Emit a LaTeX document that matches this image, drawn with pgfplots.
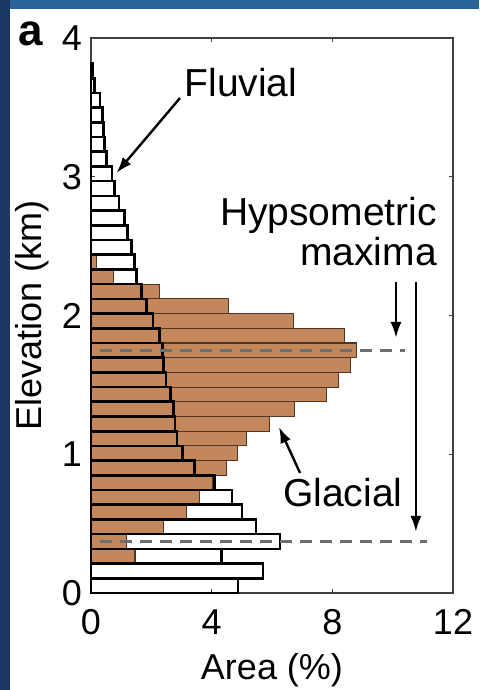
\documentclass[border=0pt]{standalone}
\usepackage{pgfplots}
\pgfplotsset{compat=1.18}
\usetikzlibrary{arrows.meta}
\usepackage{fontspec}
\setmainfont{Liberation Sans}

\definecolor{glacial}{HTML}{C4875C}
\definecolor{glacialedge}{HTML}{4E3524}
\definecolor{frameblue}{HTML}{2A6398}
\definecolor{framenavy}{HTML}{1B3761}
\definecolor{hypso}{HTML}{6E6E6E}

\newcommand{\lblfont}{\fontsize{36}{38}\selectfont}
\newcommand{\notefont}{\fontsize{39}{41}\selectfont}
\tikzset{note arrow/.style={line width=2.4pt, -{Latex[length=16pt, width=11pt]}}}

\begin{document}
\begin{tikzpicture}[x=1pt,y=1pt]
% page background and coloured frame strips
\fill[white] (0,0) rectangle (479,690);
\fill[framenavy] (0,0) rectangle (10,690);
\fill[frameblue] (10,681) rectangle (479,690);
\useasboundingbox (0,0) rectangle (479,690);
\node[font=\fontsize{44}{44}\selectfont\bfseries, anchor=center, inner sep=0pt] at (30.5,656.5) {a};

\begin{axis}[
  at={(91pt,97pt)}, anchor=south west, scale only axis,
  width=362pt, height=555pt,
  xmin=0, xmax=12, ymin=0, ymax=4,
  xtick={0,4,8,12}, ytick={0,1,2,3,4},
  tick align=inside, major tick length=4pt,
  axis line style={draw=black!75, line width=1.3pt},
  every tick/.style={black!75, line width=1.2pt},
  /pgf/number format/assume math mode=true,
  tick label style={font=\lblfont, inner sep=0pt},
  xticklabel style={anchor=center, yshift=-29pt},
  yticklabel style={anchor=east, xshift=-9pt},
  xlabel={Area (\%)}, ylabel={Elevation (km)},
  label style={font=\lblfont, inner sep=0pt},
  xlabel style={at={(axis description cs:0.5,-0.1387)}, anchor=center},
  ylabel style={at={(axis description cs:-0.163,0.5)}, anchor=center},
  clip=false,
]

% glacial hypsometry (elevation bin centre in km, area in %)
\addplot[xbar, bar width=0.106, bar shift=0pt, fill=glacial, draw=glacialedge, line width=1.1pt]
coordinates {
 (1.46,0.265) (1.19,0.371) (2.40,0.477) (3.18,0.583) (3.60,0.689)
 (4.03,0.795) (4.50,0.901) (4.86,1.007) (5.16,1.113) (5.93,1.219)
 (6.74,1.325) (7.80,1.431) (8.19,1.537) (8.59,1.643) (8.80,1.749)
 (8.40,1.855) (6.70,1.961) (4.55,2.067) (2.28,2.173) (0.76,2.279)
 (0.18,2.385)
};

% fluvial hypsometry, outlined on top
\addplot[xbar, bar width=0.106, bar shift=0pt, fill=none, draw=black, line width=2.6pt]
coordinates {
 (4.87,0.053) (5.70,0.159) (4.32,0.265) (6.27,0.371) (5.47,0.477)
 (5.00,0.583) (4.67,0.689) (4.10,0.795) (3.44,0.901) (3.03,1.007)
 (2.85,1.113) (2.79,1.219) (2.74,1.325) (2.63,1.431) (2.49,1.537)
 (2.40,1.643) (2.38,1.749) (2.27,1.855) (2.05,1.961) (1.84,2.067)
 (1.68,2.173) (1.51,2.279) (1.45,2.385) (1.35,2.491) (1.21,2.597)
 (1.11,2.703) (0.93,2.809) (0.78,2.915) (0.69,3.021) (0.52,3.127)
 (0.45,3.233) (0.42,3.339) (0.38,3.445) (0.30,3.551) (0.12,3.657)
 (0.04,3.763)
};

% hypsometric maxima
\addplot[hypso, line width=2.5pt, dash pattern=on 12pt off 8pt] coordinates {(0.3,1.749) (10.41,1.749)};
\addplot[hypso, line width=2.5pt, dash pattern=on 12pt off 8pt] coordinates {(0.3,0.371) (11.14,0.371)};

% annotations
\node[font=\notefont, anchor=base, inner sep=0pt] at (axis cs:4.97,3.575) {Fluvial};
\draw[note arrow] (axis cs:2.95,3.567) -- (axis cs:0.845,3.027);

\node[font=\notefont, anchor=base east, inner sep=0pt] at (axis cs:11.47,2.652) {Hypsometric};
\node[font=\notefont, anchor=base east, inner sep=0pt] at (axis cs:11.47,2.357) {maxima};
\draw[note arrow] (axis cs:10.11,2.241) -- (axis cs:10.11,1.838);
\draw[note arrow] (axis cs:10.77,2.241) -- (axis cs:10.77,0.44);

\node[font=\notefont, anchor=base, inner sep=0pt] at (axis cs:8.35,0.62) {Glacial};
\draw[note arrow] (axis cs:6.93,0.865) -- (axis cs:6.23,1.196);
\end{axis}
\end{tikzpicture}
\end{document}
